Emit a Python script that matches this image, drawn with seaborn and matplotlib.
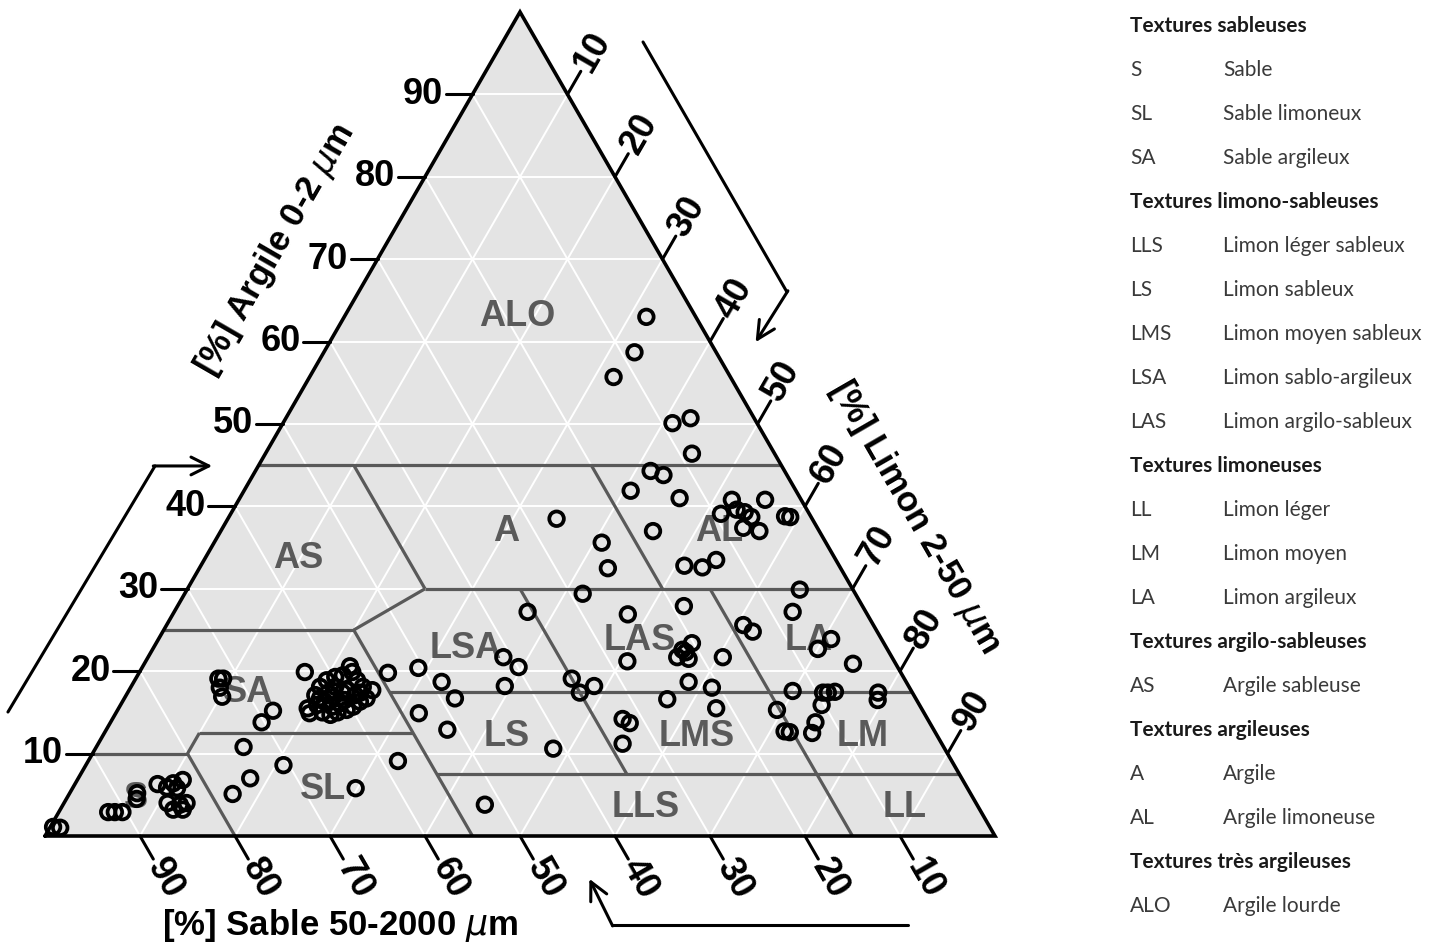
import numpy as np
import pandas as pd
import matplotlib
matplotlib.use("Agg")
import matplotlib.pyplot as plt
import seaborn as sns

# Teneurs des echantillons (%) : argile et limon, le sable est le complement a 100
argile = [63.0, 58.7, 55.7, 50.1, 50.7, 46.4, 44.3, 43.8, 41.9, 41.0, 38.5, 37.0, 35.6,
          40.8, 39.1, 39.6, 38.7, 40.8, 37.4, 37.0, 38.8, 38.7, 39.3,
          32.5, 32.8, 32.6, 33.5, 29.4, 29.9, 27.2, 26.9, 27.9, 27.2, 25.6, 24.8, 23.9, 22.7,
          23.4, 22.6, 21.7, 21.5, 22.3, 21.2, 21.7, 20.9, 21.7, 20.5, 18.2, 19.1, 17.4, 18.2,
          18.7, 18.0, 17.6, 16.6, 15.5, 15.3, 14.2, 13.7, 17.4, 17.5, 15.9, 13.8, 12.7, 12.6,
          12.5, 11.2, 10.6, 17.4, 16.5, 3.8, 17.4,
          19.8, 20.4, 18.7, 16.7, 14.9, 12.9, 9.1, 5.8,
          19.9, 15.2, 13.8, 10.8, 8.6, 7.0, 5.1, 19.1, 19.1, 18.0, 16.9,
          17.1, 18.1, 18.9, 19.3, 19.5, 19.9, 18.9, 18.1, 17.7, 16.7, 16.3, 15.7, 15.3, 15.0,
          14.7, 15.0, 14.9, 15.9, 16.3, 16.9, 17.4, 17.7, 18.1, 17.4, 16.1, 17.1, 16.7, 15.7,
          16.5, 17.4, 15.5, 20.6,
          1.1, 1.0, 2.9, 2.9, 2.9, 5.2, 4.5, 6.3, 5.9, 6.4, 6.8, 5.8, 4.0, 3.8, 4.0, 3.2, 3.2]
limon = [31.8, 32.7, 32.0, 41.0, 42.6, 44.9, 41.6, 43.2, 40.7, 46.3, 34.6, 45.5, 40.8,
         51.9, 51.6, 53.0, 55.0, 55.4, 54.8, 56.7, 58.5, 59.1, 54.0,
         43.0, 50.9, 52.9, 53.9, 41.9, 64.5, 37.2, 47.9, 53.3, 65.1, 60.7, 62.1, 70.8, 70.0,
         56.4, 55.8, 55.7, 57.0, 56.3, 50.7, 60.5, 74.6, 37.4, 39.6, 39.3, 45.9, 47.6, 48.7,
         58.4, 61.2, 69.9, 57.2, 62.9, 69.4, 53.7, 54.7, 73.7, 74.4, 73.8, 74.2, 71.5, 72.1,
         74.5, 55.2, 48.2, 79.0, 79.4, 44.4, 73.2,
         26.2, 29.1, 32.4, 34.8, 31.9, 35.9, 32.6, 29.8,
         17.4, 16.4, 15.9, 15.5, 20.8, 18.1, 17.2, 8.7, 9.2, 9.4, 10.2,
         19.9, 19.9, 20.2, 20.9, 21.6, 22.4, 23.4, 24.4, 25.6, 25.5, 25.0, 24.6, 24.1, 23.3,
         22.7, 21.7, 20.4, 20.7, 21.3, 21.9, 22.6, 23.0, 21.5, 21.1, 23.0, 24.1, 20.6, 22.4,
         23.3, 24.5, 19.9, 21.8,
         0.3, 1.1, 5.2, 5.9, 6.7, 7.1, 7.4, 8.7, 9.9, 10.3, 11.1, 11.0, 10.9, 12.3, 12.9, 11.9, 12.9]

# Limites des classes de texture : segments (argile, limon) -> (argile, limon)
limites = [
    ((45, 0), (45, 55)), ((45, 10), (30, 25)), ((30, 25), (30, 70)),
    ((30, 25), (25, 20)), ((25, 0), (25, 20)), ((45, 35), (30, 50)),
    ((30, 35), (7.5, 57.5)), ((30, 55), (0, 85)), ((25, 20), (0, 45)),
    ((17.5, 27.5), (17.5, 82.5)), ((12.5, 10), (12.5, 32.5)), ((12.5, 10), (10, 10)),
    ((10, 0), (10, 10)), ((10, 10), (0, 20)), ((7.5, 37.5), (7.5, 92.5)),
]

classes = ["ALO", "A", "AL", "AS", "LSA", "LAS", "LA", "SA", "LS", "LMS", "LM", "SL", "LLS", "LL", "S"]
classes_argile = [63, 37, 37, 33.7, 22.8, 23.7, 23.7, 17.4, 12.1, 12.1, 12.1, 5.6, 3.4, 3.4, 4.6]
classes_limon = [18.2, 30, 52.5, 9.8, 32.9, 50.8, 68.5, 12.7, 42.5, 62.6, 80, 26.5, 61.5, 88.8, 7.3]

graduations = [10, 20, 30, 40, 50, 60, 70, 80, 90]

legende = [("", "Textures sableuses"), ("S", "Sable"), ("SL", "Sable limoneux"),
           ("SA", "Sable argileux"), ("", "Textures limono-sableuses"),
           ("LLS", "Limon léger sableux"), ("LS", "Limon sableux"),
           ("LMS", "Limon moyen sableux"), ("LSA", "Limon sablo-argileux"),
           ("LAS", "Limon argilo-sableux"), ("", "Textures limoneuses"),
           ("LL", "Limon léger"), ("LM", "Limon moyen"), ("LA", "Limon argileux"),
           ("", "Textures argilo-sableuses"), ("AS", "Argile sableuse"),
           ("", "Textures argileuses"), ("A", "Argile"), ("AL", "Argile limoneuse"),
           ("", "Textures très argileuses"), ("ALO", "Argile lourde")]

R3 = np.sqrt(3) / 2.0


# passage (argile, limon) -> coordonnees du triangle
def tern(clay, silt):
    clay = np.asarray(clay, dtype=float)
    silt = np.asarray(silt, dtype=float)
    return silt + clay / 2.0, clay * R3


sns.set_theme(style="white")
plt.rcParams['font.family'] = ['Liberation Sans', 'DejaVu Sans']

fig = plt.figure(figsize=(14.4, 9.5), dpi=100)
ax = fig.add_axes([0, 0, 1, 1])
ax.set_xlim(-45 / 9.5, 1395 / 9.5)
ax.set_ylim(-114 / 9.515, 836 / 9.515)
ax.axis('off')

# fond gris
ax.fill([0, 100, 50], [0, 0, 100 * R3], color='#e4e4e4', zorder=0, lw=0)

# grille blanche
for v in graduations:
    for (a, b) in [((v, 0), (v, 100 - v)), ((0, v), (100 - v, v)), ((0, 100 - v), (100 - v, 0))]:
        x, y = tern([a[0], b[0]], [a[1], b[1]])
        ax.plot(x, y, color='white', lw=1.4, zorder=1)

# limites des classes
for (a, b) in limites:
    x, y = tern([a[0], b[0]], [a[1], b[1]])
    ax.plot(x, y, color='#595959', lw=2.3, zorder=2, solid_capstyle='butt')

# contour
ax.plot([0, 100, 50, 0], [0, 0, 100 * R3, 0], color='black', lw=2.6, zorder=4,
        solid_joinstyle='miter')

# noms des classes
cx, cy = tern(classes_argile, classes_limon)
for i in range(len(classes)):
    ax.text(cx[i], cy[i], classes[i], ha='center', va='center', fontsize=26,
            fontweight='bold', color='#5a5a5a', zorder=3)

# echantillons
px, py = tern(argile, limon)
df = pd.DataFrame({"x": px, "y": py})
sns.scatterplot(data=df, x="x", y="y", ax=ax, marker='o', s=110, facecolor='none',
                edgecolor='black', linewidth=2.7, zorder=5)
ax.set_xlabel('')
ax.set_ylabel('')

# graduations
tl = 2.8
for v in graduations:
    # argile (gauche)
    x0, y0 = tern(v, 0)
    ax.plot([x0, x0 - tl], [y0, y0], color='black', lw=2.2, zorder=4)
    ax.text(x0 - tl - 0.3, y0, str(v), ha='right', va='center', fontsize=26,
            fontweight='bold', color='black')
    # limon (droite)
    x0, y0 = tern(100 - v, v)
    dx, dy = 0.5 * tl, R3 * tl
    ax.plot([x0, x0 + dx], [y0, y0 + dy], color='black', lw=2.2, zorder=4)
    ax.text(x0 + dx * 1.1, y0 + dy * 1.1, str(v), ha='left', va='center', fontsize=26,
            fontweight='bold', rotation=60, rotation_mode='anchor', color='black')
    # sable (bas)
    x0, y0 = tern(0, 100 - v)
    ax.plot([x0, x0 + dx], [y0, y0 - dy], color='black', lw=2.2, zorder=4)
    ax.text(x0 + dx * 1.1, y0 - dy * 1.1, str(v), ha='left', va='center', fontsize=26,
            fontweight='bold', rotation=-60, rotation_mode='anchor', color='black')

# titres des axes
ax.text(24.2, 61.6, r'[%] Argile 0-2 $\mu$m', rotation=60, ha='center', va='center',
        fontsize=25, fontweight='bold', color='black')
ax.text(91.6, 33.5, r'[%] Limon 2-50 $\mu$m', rotation=-60, ha='center', va='center',
        fontsize=25, fontweight='bold', color='black')
ax.text(31.05, -9.45, r'[%] Sable 50-2000 $\mu$m', ha='center', va='center',
        fontsize=25, fontweight='bold', color='black')

# fleches de lecture
arrow = dict(arrowstyle='->', lw=2.2, color='black', mutation_scale=32, shrinkA=0, shrinkB=0)
ax.plot([-3.9, 11.58], [13.03, 38.89], color='black', lw=2.2)
ax.annotate('', xy=(17.6, 38.89), xytext=(11.4, 38.89), arrowprops=arrow)
ax.plot([62.95, 78.1], [83.45, 57.17], color='black', lw=2.2)
ax.annotate('', xy=(74.8, 51.9), xytext=(78.2, 57.3), arrowprops=arrow)
ax.plot([90.84, 59.68], [-9.35, -9.35], color='black', lw=2.2)
ax.annotate('', xy=(57.3, -4.5), xytext=(59.75, -9.45), arrowprops=arrow)

# legende
police = ['Lato', 'DejaVu Sans']
for i, (code, nom) in enumerate(legende):
    yf = 1 - (26 + 44 * i) / 950
    if code == "":
        fig.text(1130 / 1440, yf, nom, ha='left', va='center', fontsize=15,
                 fontweight='bold', color='#1a1a1a', family=police)
    else:
        fig.text(1130 / 1440, yf, code, ha='left', va='center', fontsize=15,
                 color='#3a3a3a', family=police)
        fig.text(1223 / 1440, yf, nom, ha='left', va='center', fontsize=15,
                 color='#3a3a3a', family=police)

fig.savefig('out.png', dpi=100, facecolor='white')
